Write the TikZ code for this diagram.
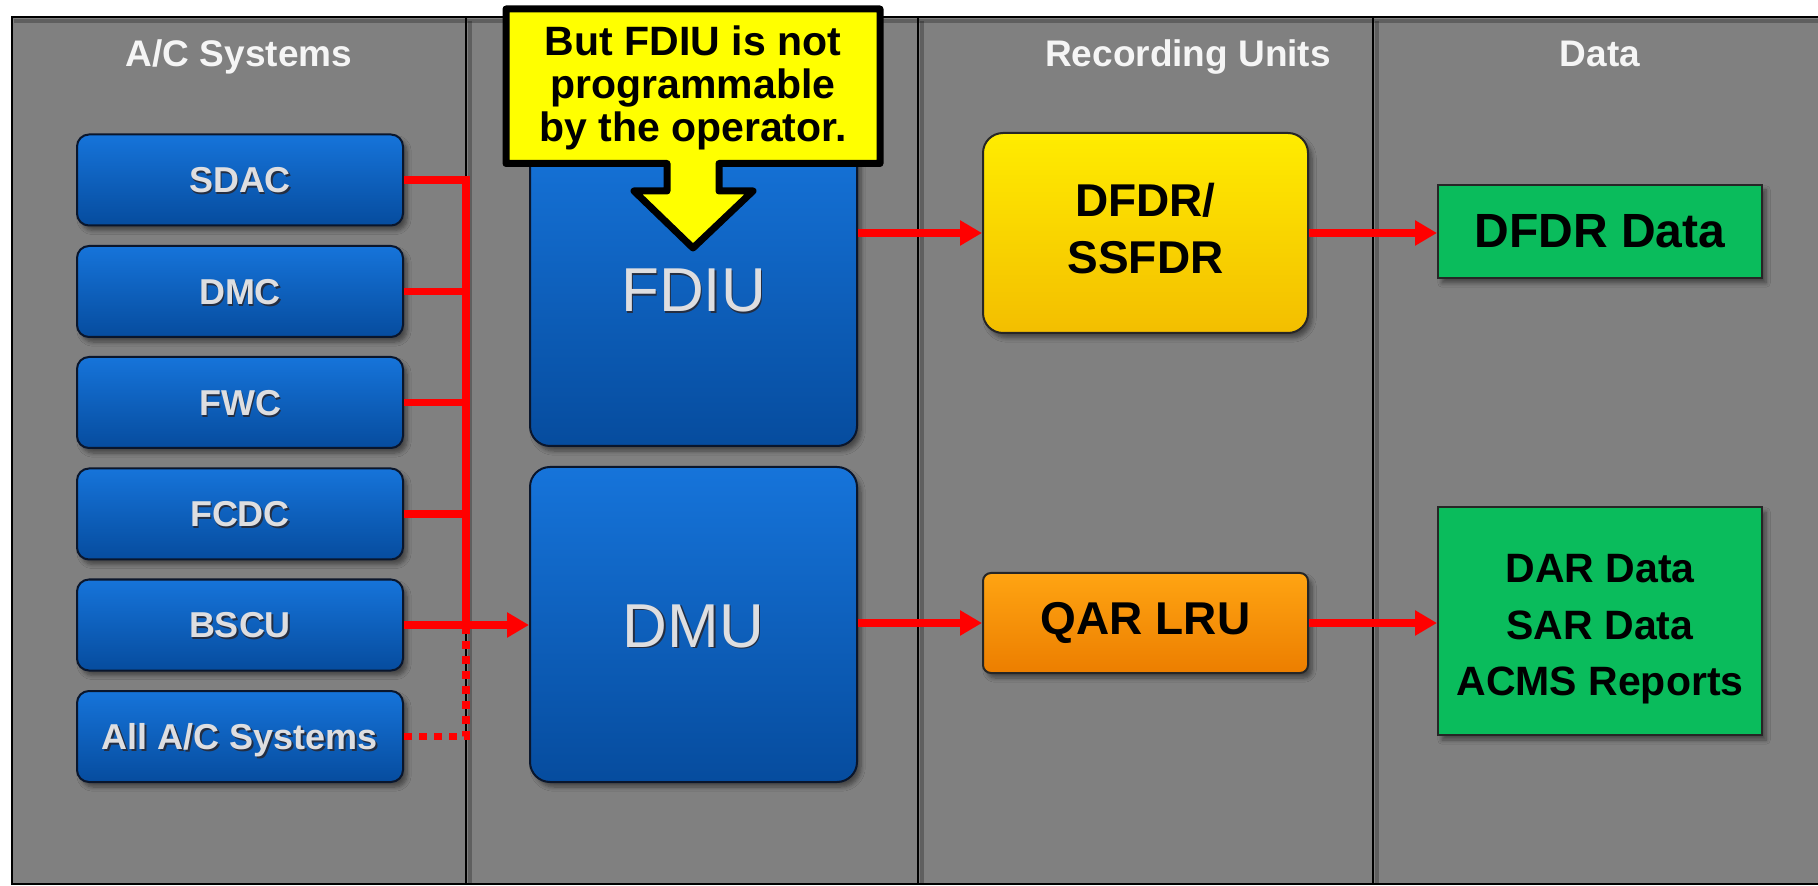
\documentclass[tikz,border=0pt]{standalone}
\usepackage{fontspec}
\setmainfont{Liberation Sans}
\usetikzlibrary{arrows.meta,shadows.blur}

\definecolor{panelGray}{RGB}{128,128,128}
\definecolor{blueTop}{RGB}{22,116,218}
\definecolor{blueBot}{RGB}{6,76,158}
\definecolor{blueEdge}{RGB}{10,22,44}
\definecolor{embText}{RGB}{222,222,224}
\definecolor{embShade}{RGB}{36,46,66}
\definecolor{flowRed}{RGB}{255,0,0}
\definecolor{yelTop}{RGB}{255,236,0}
\definecolor{yelBot}{RGB}{243,190,0}
\definecolor{oraTop}{RGB}{255,164,18}
\definecolor{oraBot}{RGB}{236,126,0}
\definecolor{dataGreen}{RGB}{10,188,92}
\definecolor{noteYellow}{RGB}{255,255,0}

% embossed label text
\newcommand{\emb}[1]{\leavevmode\rlap{\kern0.7pt\raisebox{-0.9pt}{\color{embShade}#1}}#1}

\tikzset{
  sysbox/.style={draw=blueEdge, line width=1pt, rounded corners=6pt,
    top color=blueTop, bottom color=blueBot,
    minimum width=163pt, minimum height=45.5pt, inner sep=0pt,
    text=embText, text height=12.9pt, text depth=0pt,
    font=\fontsize{18}{20}\selectfont\bfseries,
    blur shadow={shadow xshift=2pt, shadow yshift=-2.5pt, shadow opacity=45, shadow blur steps=6}},
  unitbox/.style={sysbox, rounded corners=10pt, minimum width=163.5pt,
    text height=22.5pt, font=\fontsize{31}{34}\selectfont},
  recbox/.style={draw=black!85, line width=1pt, rounded corners=10pt,
    minimum width=162.5pt, inner sep=0pt, align=center, text=black,
    font=\fontsize{23}{28.5}\selectfont\bfseries,
    blur shadow={shadow xshift=2pt, shadow yshift=-2.5pt, shadow opacity=45, shadow blur steps=6}},
  databox/.style={draw=black!85, line width=1pt, fill=dataGreen,
    minimum width=162pt, inner sep=0pt, align=center, text=black,
    font=\fontsize{20.5}{28.25}\selectfont\bfseries,
    blur shadow={shadow xshift=2pt, shadow yshift=-2.5pt, shadow opacity=45, shadow blur steps=6}},
  colhead/.style={anchor=base, text=white!96!black, font=\fontsize{18.5}{20}\selectfont\bfseries},
  bus/.style={draw=flowRed, line width=3.75pt, line join=miter},
  busdot/.style={bus, dash pattern=on 4pt off 3.5pt},
  flow/.style={bus, -{Triangle[length=11pt,width=12pt]}},
}

\begin{document}
\begin{tikzpicture}[x=0.5pt,y=0.5pt,yscale=-1,xscale=1]
\useasboundingbox (0,0) rectangle (1818,886);
\clip (0,0) rectangle (1818,886);
\fill[white] (0,0) rectangle (1818,886);

%Shape: Rectangle (panel)
\fill[panelGray] (12,17) rectangle (1840,884);
%Straight Lines (column shadows)
\draw[black, opacity=0.25, line width=2pt] (14,21) -- (1840,21);
\foreach \cx in {466,918,1373} {
  \draw[black, opacity=0.25, line width=2pt] (\cx+4,21) -- (\cx+4,884);
}
%Straight Lines (columns)
\draw[line width=1pt] (466,17) -- (466,884);
\draw[line width=1pt] (918,17) -- (918,884);
\draw[line width=1pt] (1373,17) -- (1373,884);
\draw[line width=1.2pt] (1840,17) -- (12,17) -- (12,884) -- (1840,884);

% Text Node
\node[colhead] (hdrSys) at (239,67) {A/C Systems};
% Text Node
\node[colhead] (hdrRec) at (1188,67) {Recording Units};
% Text Node
\node[colhead] (hdrData) at (1600,67) {Data};

%Shape: A/C system boxes
\node[sysbox] (sdac) at (240,180) {\emb{SDAC}};
\node[sysbox] (dmc) at (240,291.5) {\emb{DMC}};
\node[sysbox] (fwc) at (240,402.5) {\emb{FWC}};
\node[sysbox] (fcdc) at (240,514) {\emb{FCDC}};
\node[sysbox] (bscu) at (240,625) {\emb{BSCU}};
\node[sysbox] (allsys) at (240,736.5) {\emb{All A/C Systems}};

%Shape: acquisition units
\node[unitbox, minimum height=156.5pt] (fdiu) at (693.5,289.5) {\emb{FDIU}};
\node[unitbox, minimum height=157.5pt] (dmu) at (693.5,624.5) {\emb{DMU}};

%Shape: recording units
\node[recbox, top color=yelTop, bottom color=yelBot, minimum height=100pt] (dfdr) at (1145.5,233) {DFDR/\\SSFDR\rule[-5pt]{0pt}{5pt}};
\node[recbox, rounded corners=4pt, top color=oraTop, bottom color=oraBot, minimum height=50pt] (qar) at (1145.5,623) {QAR LRU};

%Shape: data boxes
\node[databox, minimum height=46.5pt, font=\fontsize{24}{26}\selectfont\bfseries] (dfdrdata) at (1600,231.5) {DFDR Data};
\node[databox, minimum height=114pt] (dardata) at (1600,621) {\rule{0pt}{22.5pt}DAR Data\\SAR Data\\ACMS Reports};

% bus coordinate
\coordinate (bus) at (466,0);

%Straight Lines
\draw[bus] (sdac.east) -- (sdac.east -| bus) -- (bscu.east -| bus);
\draw[bus] (dmc.east) -- (dmc.east -| bus);
\draw[bus] (fwc.east) -- (fwc.east -| bus);
\draw[bus] (fcdc.east) -- (fcdc.east -| bus);
\draw[busdot] (allsys.east) -- (allsys.east -| bus) -- (bscu.east -| bus);
\draw[flow] (bscu.east) -- (dmu.west |- bscu.east);
\draw[flow] (fdiu.east |- dfdr.west) -- (dfdr.west);
\draw[flow] (dfdr.east) -- (dfdrdata.west |- dfdr.east);
\draw[flow] (dmu.east |- qar.west) -- (qar.west);
\draw[flow] (qar.east) -- (dardata.west |- qar.east);

%Shape: callout
\draw[line width=3.5pt, line join=round, fill=noteYellow]
  (506,9) -- (880,9) -- (880,163.5) -- (719,163.5) -- (719,191) -- (753,191)
  -- (693,248) -- (634,191) -- (667,191) -- (667,163.5) -- (506,163.5) -- cycle;
% Text Node
\node[align=center, font=\fontsize{20.5}{21.5}\selectfont\bfseries] (note) at (693,88) {But FDIU is not\\programmable\\by the operator.};

\end{tikzpicture}
\end{document}
